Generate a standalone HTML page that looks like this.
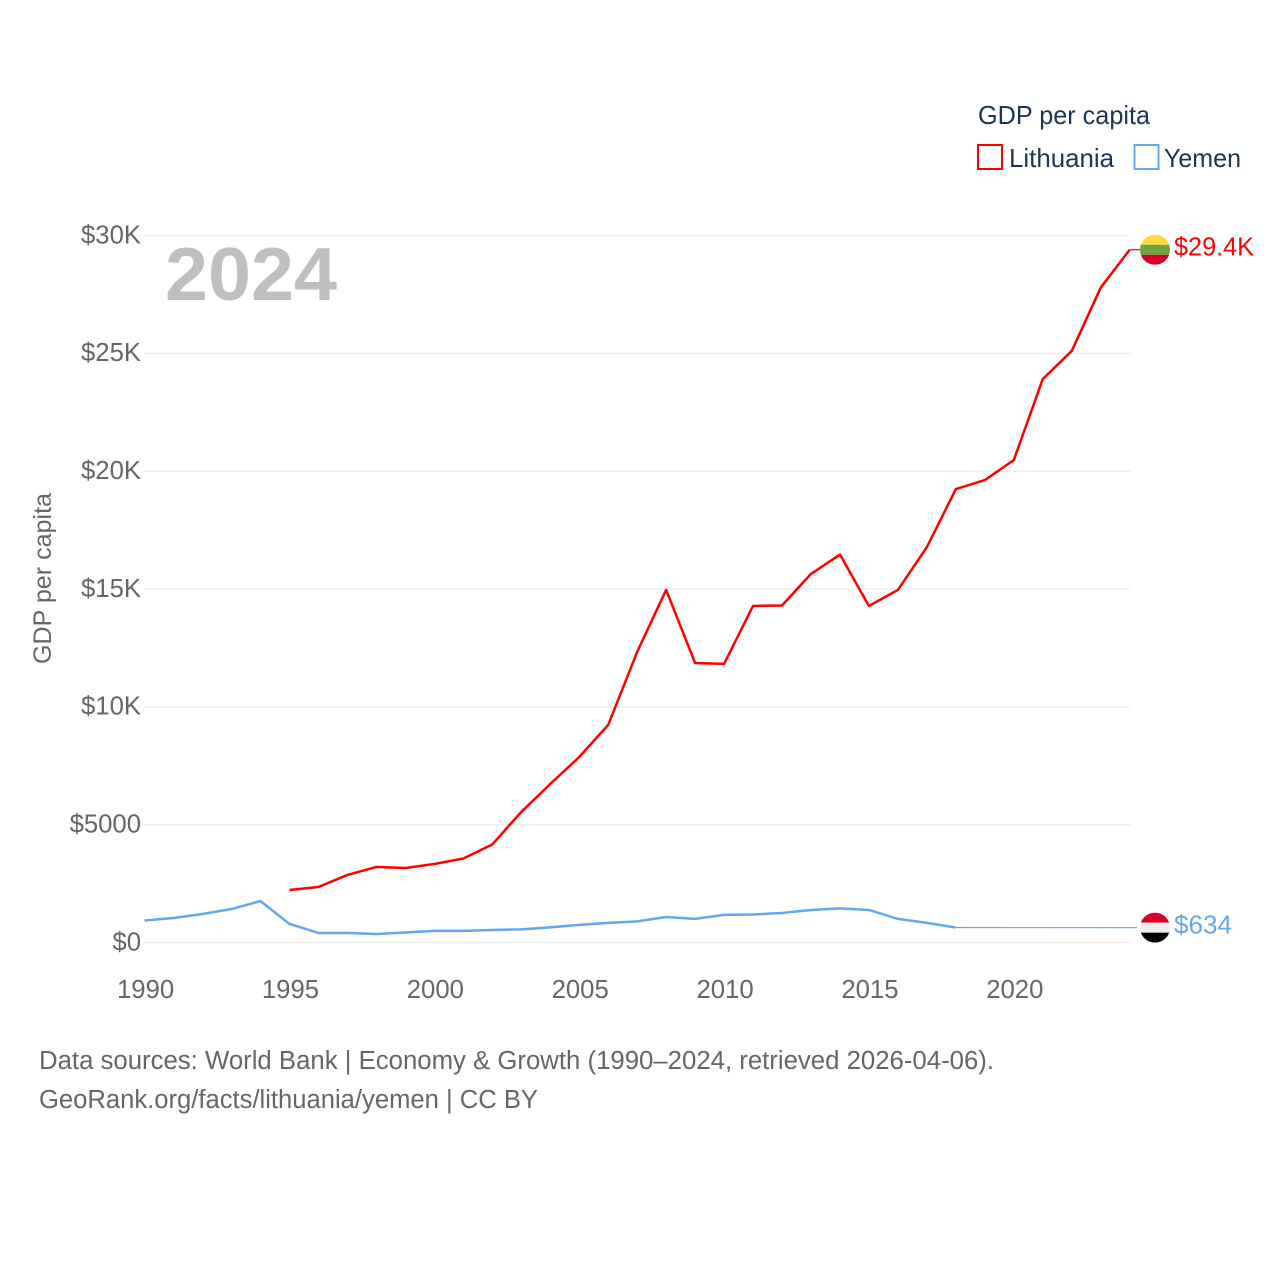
<!DOCTYPE html>
<html lang="en">
<head>
<meta charset="utf-8">
<title>GDP per capita: Lithuania vs Yemen</title>
<style>
html,body{margin:0;padding:0;background:#fff;}
svg{display:block;font-family:"Liberation Sans",Carlito,sans-serif;}
</style>
</head>
<body>
<svg id="chart" width="1280" height="1280" viewBox="0 0 1280 1280" xmlns="http://www.w3.org/2000/svg">
  <defs>
    <clipPath id="flag-clip"><circle cx="0" cy="0" r="15"></circle></clipPath>
  </defs>
  <rect x="0" y="0" width="1280" height="1280" fill="#ffffff"></rect>

  <g id="grid"></g>
  <g id="yticks"></g>
  <g id="xticks"></g>

  <text x="165" y="300" font-size="75" font-weight="700" fill="#bfbfbf" textLength="172" lengthAdjust="spacingAndGlyphs">2024</text>

  <text transform="translate(51,664) rotate(-90)" font-size="25" fill="#666666" textLength="171" lengthAdjust="spacingAndGlyphs">GDP per capita</text>

  <g id="series"></g>

  <g>
    <text x="978" y="124" font-size="26" fill="#1a3557" textLength="172" lengthAdjust="spacingAndGlyphs">GDP per capita</text>
    <g>
      <rect x="978" y="145" width="24" height="24" fill="#ffffff" stroke="#ff0000" stroke-width="2"></rect>
      <text x="1009" y="167" font-size="26" fill="#1a3557" textLength="105" lengthAdjust="spacingAndGlyphs">Lithuania</text>
    </g>
    <g>
      <rect x="1134.5" y="145" width="24" height="24" fill="#ffffff" stroke="#64a8f0" stroke-width="2"></rect>
      <text x="1164" y="167" font-size="26" fill="#1a3557" textLength="77" lengthAdjust="spacingAndGlyphs">Yemen</text>
    </g>
  </g>

  <g>
    <text x="39" y="1069" font-size="25.5" fill="#666666" textLength="955" lengthAdjust="spacingAndGlyphs">Data sources: World Bank | Economy &amp; Growth (1990–2024, retrieved 2026-04-06).</text>
    <text x="39" y="1108" font-size="25.5" fill="#666666" textLength="499" lengthAdjust="spacingAndGlyphs">GeoRank.org/facts/lithuania/yemen | CC BY</text>
  </g>
</svg>

<script>
const years = [1990,1991,1992,1993,1994,1995,1996,1997,1998,1999,2000,2001,2002,2003,2004,2005,2006,2007,2008,2009,2010,2011,2012,2013,2014,2015,2016,2017,2018,2019,2020,2021,2022,2023,2024];
const lithuaniaValues = [null,null,null,null,null,2230,2360,2870,3210,3165,3335,3570,4165,5545,6730,7875,9235,12335,14965,11865,11825,14285,14305,15645,16465,14285,14965,16785,19245,19625,20475,23915,25105,27795,29400];
const yemenValues = [940,1045,1215,1425,1765,791,409,409,365,430,495,495,535,560,645,750,835,900,1085,1005,1175,1195,1255,1385,1450,1385,1005,835,640,null,null,null,null,null,null];
const yemenLatest = 634;
const lithuaniaLatest = 29400;
const yTickValues = [0,5000,10000,15000,20000,25000,30000];
const yTickLabels = ["$0","$5000","$10K","$15K","$20K","$25K","$30K"];
const xTickValues = [1990,1995,2000,2005,2010,2015,2020];
const lithuaniaEndLabel = "$29.4K";
const yemenEndLabel = "$634";

const NS = "http://www.w3.org/2000/svg";
const svg = document.getElementById("chart");
const gridG = document.getElementById("grid");
const yTicksG = document.getElementById("yticks");
const xTicksG = document.getElementById("xticks");
const seriesG = document.getElementById("series");

function xScale(year){ return 144.6 + (year - 1990) * (1129.7 - 144.6) / (2024 - 1990); }
function yScale(v){ return 942.6 - v * (942.6 - 235.6) / 30000; }

function make(tag, attrs, parent){
  const el = document.createElementNS(NS, tag);
  for (const k in attrs) el.setAttribute(k, attrs[k]);
  parent.appendChild(el);
  return el;
}

yTickValues.forEach(function(v, i){
  const line = make("line", {x1:144, x2:1130, y1:yScale(v), y2:yScale(v), stroke:"#eeeeee", "stroke-width":1.5}, gridG);
  
  
  const t = make("text", {x:141, y:yScale(v)+7.8, "text-anchor":"end", "font-size":25.7, fill:"#666666"}, yTicksG);
  
  
  t.textContent = yTickLabels[i];
});

xTickValues.forEach(function(yr){
  const t = make("text", {x:xScale(yr)+1, y:998, "text-anchor":"middle", "font-size":25.7, fill:"#666666"}, xTicksG);
  
  
  t.textContent = String(yr);
});

function pointsFor(values){
  const pts = [];
  values.forEach(function(v, i){
    if (v !== null) pts.push(xScale(years[i]).toFixed(2) + "," + yScale(v).toFixed(2));
  });
  return pts;
}

function lastIndex(values){
  let idx = 0;
  values.forEach(function(v, i){ if (v !== null) idx = i; });
  return idx;
}

/* Lithuania */
const litLine = make("polyline", {points:pointsFor(lithuaniaValues).join(" "), fill:"none", stroke:"#ff0000", "stroke-width":2.5, "stroke-linejoin":"round"}, seriesG);


const litLink = make("line", {x1:xScale(2024), x2:1140, y1:yScale(lithuaniaLatest), y2:yScale(lithuaniaLatest), stroke:"#ff0000", "stroke-width":1.2}, seriesG);



/* Yemen */
const yemLine = make("polyline", {points:pointsFor(yemenValues).join(" "), fill:"none", stroke:"#64a8f0", "stroke-width":2.5, "stroke-linejoin":"round"}, seriesG);


const yemLast = lastIndex(yemenValues);
const yemLink = make("line", {x1:xScale(years[yemLast]), x2:1137, y1:yScale(yemenValues[yemLast]), y2:yScale(yemenLatest), stroke:"#64a8f0", "stroke-width":1.2}, seriesG);



/* Flags */
function flag(value, colors, name){
  const g = make("g", {transform:"translate(1155," + yScale(value).toFixed(2) + ")", "clip-path":"url(#flag-clip)"}, svg);
  
  
  colors.forEach(function(c, i){
    make("rect", {x:-15, y:-15 + i*10, width:30, height:10, fill:c}, g);
  });
}
flag(lithuaniaLatest, ["#ffd83d","#6da544","#d80027"], "lithuania-flag");
flag(yemenLatest, ["#d80027","#eeeeee","#000000"], "yemen-flag");

/* End labels */
const litLabel = make("text", {x:1174, y:yScale(lithuaniaLatest)+6, "font-size":25.7, fill:"#ff0000", textLength:80, lengthAdjust:"spacingAndGlyphs"}, svg);


litLabel.textContent = lithuaniaEndLabel;
const yemLabel = make("text", {x:1174, y:yScale(yemenLatest)+6, "font-size":25.7, fill:"#64a8f0", textLength:58, lengthAdjust:"spacingAndGlyphs"}, svg);


yemLabel.textContent = yemenEndLabel;
</script>
</body>
</html>
